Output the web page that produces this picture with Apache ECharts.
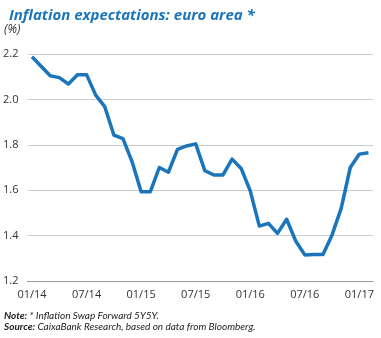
<!DOCTYPE html>
<html><head><meta charset="utf-8">
<script src="https://cdn.jsdelivr.net/npm/echarts@6/dist/echarts.min.js"></script>
<style>html,body{margin:0;padding:0;background:#fff}#c{width:381px;height:338px}</style>
</head><body><div id="c"></div>
<script>
const months = ["01/14","02/14","03/14","04/14","05/14","06/14","07/14","08/14","09/14","10/14","11/14","12/14",
"01/15","02/15","03/15","04/15","05/15","06/15","07/15","08/15","09/15","10/15","11/15","12/15",
"01/16","02/16","03/16","04/16","05/16","06/16","07/16","08/16","09/16","10/16","11/16","12/16",
"01/17","02/17"];
const swap5y5y = [2.188,2.146,2.104,2.096,2.068,2.109,2.109,2.019,1.968,1.843,1.827,1.726,
1.593,1.593,1.700,1.679,1.780,1.795,1.804,1.686,1.667,1.667,1.737,1.696,
1.597,1.442,1.454,1.410,1.472,1.376,1.315,1.317,1.317,1.403,1.520,1.700,
1.759,1.765];
const yTicks = {min:1.2, max:2.2, step:0.2};
const titleText = "Inflation expectations: euro area *";
const unitText = "(%)";

const noteFont = 'Lato';
const chart = echarts.init(document.getElementById('c'), null, {renderer:'canvas'});
chart.setOption({
  animation:false,
  backgroundColor:'#fff',
  title:{text:titleText, left:4, top:3,
    textStyle:{fontFamily:'Open Sans', fontSize:15, fontWeight:'bold', fontStyle:'italic', color:'#1b75bc'}},
  graphic:[
    {type:'text', left:4, top:24, style:{text:unitText, fontFamily:'Open Sans', fontSize:12, fontStyle:'italic', fill:'#333'}},
    {type:'text', left:4, top:311, style:{
      text:'{b|Note:} * Inflation Swap Forward 5Y5Y.',
      rich:{b:{fontFamily:noteFont, fontSize:10, fontWeight:'bold', fontStyle:'italic', fill:'#222'}},
      fontFamily:noteFont, fontSize:10, fontStyle:'italic', fill:'#222'}},
    {type:'text', left:4, top:322, style:{
      text:'{b|Source:} CaixaBank Research, based on data from Bloomberg.',
      rich:{b:{fontFamily:noteFont, fontSize:10, fontWeight:'bold', fontStyle:'italic', fill:'#222'}},
      fontFamily:noteFont, fontSize:10, fontStyle:'italic', fill:'#222'}}
  ],
  grid:{left:26, right:8, top:54, bottom:57, containLabel:false},
  xAxis:{type:'category', data:months, boundaryGap:true,
    axisLine:{lineStyle:{color:'#999', width:1}},
    axisTick:{interval:5, length:4, inside:true, lineStyle:{color:'#666'}},
    axisLabel:{interval:5, margin:8, fontFamily:'Open Sans', fontSize:11, color:'#333'},
    splitLine:{show:false}},
  yAxis:{type:'value', min:yTicks.min, max:yTicks.max, interval:yTicks.step,
    axisLine:{show:false}, axisTick:{show:false},
    axisLabel:{margin:9, fontFamily:'Open Sans', fontSize:11, color:'#333', formatter:v=>v.toFixed(1)},
    splitLine:{lineStyle:{color:'#ccc', width:1}}},
  series:[{type:'line', data:swap5y5y, showSymbol:false, symbol:'none',
    lineStyle:{color:'#1b75bc', width:3.5, join:'round'}}]
});
</script></body></html>
